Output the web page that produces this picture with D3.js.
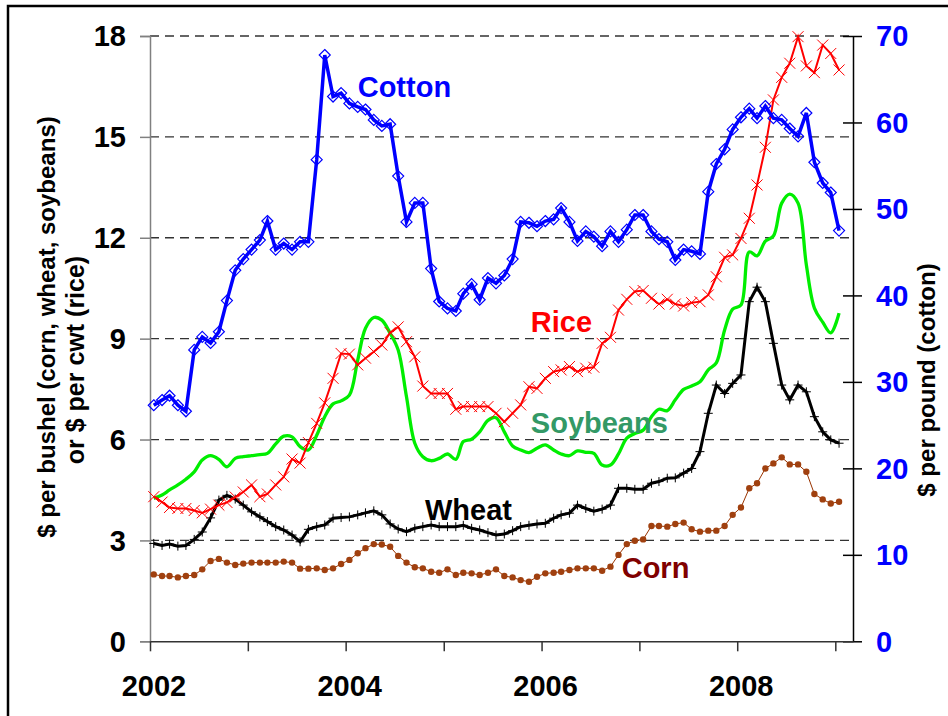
<!DOCTYPE html>
<html lang="en">
<head>
<meta charset="UTF-8">
<title>Farm prices 2002-2009</title>
<script src="https://d3js.org/d3.v7.min.js"></script>
<style>
  body { margin: 0; background: #fff; }
  svg { display: block; font-family: "Liberation Sans", Arial, sans-serif; font-weight: bold; }
</style>
</head>
<body>
<svg id="chart" width="948" height="716"></svg>
<script>
// monthly prices received by farmers, Jan 2002 - Jan 2009
const firstMonth = new Date(2002, 0, 15);

// cents per pound (right axis)
const cotton = [27.3,27.9,28.4,27.3,26.6,33.7,35.2,34.5,35.8,39.4,42.9,44.2,
  45.3,46.4,48.6,45.3,46.0,45.3,46.2,46.2,55.7,67.8,63.0,63.4,
  62.2,61.8,61.5,60.3,59.6,59.8,53.8,48.5,50.7,50.7,43.1,39.3,
  38.5,38.2,40.2,41.3,39.5,42.0,41.4,42.3,44.2,48.5,48.4,48.0,
  48.6,48.8,50.1,48.5,46.3,47.4,46.8,45.7,47.4,46.2,47.6,49.3,
  49.3,47.4,46.5,46.2,44.1,45.3,45.1,44.8,52.0,55.2,56.9,59.2,
  60.6,61.6,60.5,61.9,60.5,60.3,59.3,58.4,61.1,55.4,53.0,51.9,
  47.5];

// $ per cwt
const rice = [4.30,4.14,3.98,3.95,3.95,3.89,3.82,3.93,4.05,4.13,4.29,4.44,
  4.65,4.30,4.38,4.65,4.89,5.42,5.30,5.91,6.48,7.09,7.82,8.56,
  8.54,8.22,8.42,8.61,8.81,9.18,9.35,8.91,8.46,7.59,7.37,7.37,
  7.37,6.90,6.98,6.98,6.98,6.98,6.78,6.53,6.78,7.03,7.57,7.52,
  7.82,8.02,8.07,8.17,8.02,8.12,8.15,8.86,9.04,9.85,10.17,10.40,
  10.43,10.20,10.03,10.17,10.03,9.97,10.07,10.10,10.30,10.84,11.42,11.49,
  11.98,12.58,13.57,14.69,16.10,16.77,17.19,17.98,17.11,16.91,17.73,17.48,
  16.99];

// $ per bushel
const soybeans = [4.25,4.35,4.50,4.65,4.82,5.04,5.39,5.52,5.41,5.19,5.44,5.49,
  5.52,5.55,5.59,5.87,6.10,6.08,5.79,5.69,6.13,6.68,7.06,7.15,
  7.32,8.36,9.31,9.63,9.55,9.16,8.66,7.27,5.89,5.49,5.37,5.44,
  5.57,5.41,5.94,6.01,6.23,6.57,6.65,6.23,5.81,5.69,5.61,5.74,
  5.84,5.69,5.57,5.52,5.66,5.62,5.59,5.24,5.24,5.57,6.04,6.18,
  6.28,6.68,6.90,6.86,7.18,7.49,7.59,7.72,8.07,8.28,9.26,9.88,
  10.00,11.58,11.46,11.90,12.05,13.03,13.30,13.03,11.19,9.91,9.49,9.17,
  9.76];

const wheat = [2.91,2.85,2.89,2.83,2.85,3.03,3.25,3.67,4.20,4.34,4.23,4.05,
  3.85,3.70,3.56,3.41,3.31,3.16,2.96,3.33,3.41,3.46,3.66,3.68,
  3.70,3.76,3.82,3.88,3.76,3.49,3.34,3.26,3.36,3.41,3.46,3.41,
  3.41,3.41,3.45,3.36,3.31,3.23,3.16,3.19,3.29,3.41,3.45,3.49,
  3.51,3.66,3.76,3.81,4.05,3.95,3.87,3.93,4.05,4.55,4.55,4.52,
  4.52,4.70,4.75,4.85,4.86,5.00,5.14,5.64,6.78,7.62,7.37,7.67,
  7.92,10.10,10.53,10.10,8.86,7.62,7.18,7.62,7.42,6.68,6.23,5.99,
  5.89];

const corn = [1.99,1.94,1.94,1.90,1.94,1.97,2.14,2.39,2.45,2.34,2.27,2.31,
  2.34,2.34,2.34,2.34,2.37,2.34,2.16,2.16,2.17,2.12,2.17,2.30,
  2.42,2.62,2.77,2.89,2.88,2.81,2.54,2.34,2.20,2.17,2.07,2.04,
  2.14,1.97,2.04,2.02,1.97,2.04,2.14,1.94,1.90,1.82,1.77,1.92,
  2.02,2.04,2.07,2.12,2.17,2.17,2.17,2.10,2.22,2.57,2.89,2.99,
  3.03,3.43,3.43,3.41,3.49,3.53,3.33,3.26,3.29,3.29,3.43,3.76,
  3.98,4.55,4.70,5.14,5.29,5.47,5.26,5.26,5.04,4.38,4.22,4.10,
  4.15];

const years = [2002, 2003, 2004, 2005, 2006, 2007, 2008, 2009];
const yearLabels = ["2002", "2004", "2006", "2008"];
const leftTicks = [0, 3, 6, 9, 12, 15, 18];
const rightTicks = [0, 10, 20, 30, 40, 50, 60, 70];

const months = cotton.map((d, i) => d3.timeMonth.offset(firstMonth, i));

const svg = d3.select("#chart");

const x = d3.scaleTime()
    .domain([new Date(2002, 0, 1), new Date(2009, 2, 8)])
    .range([150, 853]);
const yL = d3.scaleLinear().domain([0, 18]).range([641.3, 36]);
const yR = d3.scaleLinear().domain([0, 70]).range([641.3, 36]);

// outer frame
svg.append("rect")
    .attr("x", 8).attr("y", 6)
    .attr("width", 960).attr("height", 760)
    .attr("fill", "none").attr("stroke", "#000").attr("stroke-width", 2.5);

// dashed grid
svg.append("g").selectAll("line")
    .data(leftTicks.filter(d => d > 0))
    .join("line")
    .attr("x1", 150).attr("x2", 853)
    .attr("y1", d => yL(d)).attr("y2", d => yL(d))
    .attr("stroke", "#333").attr("stroke-width", 1.3)
    .attr("stroke-dasharray", "9,6");

// left axis
const gL = svg.append("g").attr("transform", "translate(150,0)")
    .call(d3.axisLeft(yL).tickValues(leftTicks).tickSize(10).tickFormat(""));
gL.select(".domain").attr("stroke", "#808080").attr("stroke-width", 1.5);
gL.selectAll(".tick line").attr("stroke", "#808080").attr("stroke-width", 1.5);

svg.append("g").selectAll("text")
    .data(leftTicks)
    .join("text")
    .attr("x", 126).attr("y", d => yL(d)).attr("dy", "0.355em")
    .attr("text-anchor", "end")
    .attr("font-size", 29)
    .text(d => d);

// right axis
const gR = svg.append("g").attr("transform", "translate(853,0)")
    .call(d3.axisRight(yR).tickValues(rightTicks).tickSizeInner(9).tickSizeOuter(0).tickFormat(""));
gR.select(".domain").attr("stroke", "#000").attr("stroke-width", 1.5);
gR.selectAll(".tick line").attr("x1", -10).attr("stroke", "#000").attr("stroke-width", 1.5);

svg.append("g").selectAll("text")
    .data(rightTicks)
    .join("text")
    .attr("x", 876).attr("y", d => yR(d)).attr("dy", "0.355em")
    .attr("fill", "#0000ff")
    .attr("font-size", 29)
    .text(d => d);

// x axis
const gX = svg.append("g").attr("transform", "translate(0,641.3)")
    .call(d3.axisBottom(x).tickValues(years.map(y => new Date(y, 0, 1)))
        .tickSize(10).tickSizeOuter(0).tickFormat(""));
gX.select(".domain").attr("stroke", "#333").attr("stroke-width", 1.5);
gX.selectAll(".tick line").attr("stroke", "#333").attr("stroke-width", 1.5);

svg.append("g").selectAll("text")
    .data(yearLabels)
    .join("text")
    .attr("x", d => x(new Date(+d, 0, 1)) + 4).attr("y", 696)
    .attr("text-anchor", "middle")
    .attr("font-size", 29)
    .text(d => d);

// axis titles
svg.append("text")
    .attr("transform", "translate(55,327) rotate(-90)")
    .attr("text-anchor", "middle").attr("font-size", 24)
    .text("$ per bushel (corn, wheat, soybeans)");
svg.append("text")
    .attr("transform", "translate(84,360) rotate(-90)")
    .attr("text-anchor", "middle").attr("font-size", 25)
    .text("or $ per cwt (rice)");
svg.append("text")
    .attr("transform", "translate(935,380) rotate(-90)")
    .attr("text-anchor", "middle").attr("font-size", 24)
    .text("$ per pound (cotton)");

const lineL = d3.line().x((d, i) => x(months[i])).y(d => yL(d));
const lineR = d3.line().x((d, i) => x(months[i])).y(d => yR(d));

// soybeans: smoothed, no markers
svg.append("path")
    .datum(soybeans)
    .attr("d", lineL.curve(d3.curveCatmullRom))
    .attr("fill", "none").attr("stroke", "#00ee00").attr("stroke-width", 3.3);
lineL.curve(d3.curveLinear);

// wheat
svg.append("path")
    .datum(wheat)
    .attr("d", lineL)
    .attr("fill", "none").attr("stroke", "#000").attr("stroke-width", 3);
svg.append("g").selectAll("path")
    .data(wheat)
    .join("path")
    .attr("transform", (d, i) => `translate(${x(months[i])},${yL(d)})`)
    .attr("d", "M-4.5,0H4.5M0,-4.5V4.5")
    .attr("stroke", "#000").attr("stroke-width", 1);

// corn
svg.append("path")
    .datum(corn)
    .attr("d", lineL)
    .attr("fill", "none").attr("stroke", "#993300").attr("stroke-width", 1);
svg.append("g").selectAll("circle")
    .data(corn)
    .join("circle")
    .attr("cx", (d, i) => x(months[i])).attr("cy", d => yL(d))
    .attr("r", 3.2).attr("fill", "#a0400f");

// rice
svg.append("path")
    .datum(rice)
    .attr("d", lineL)
    .attr("fill", "none").attr("stroke", "#ff0000").attr("stroke-width", 2);
svg.append("g").selectAll("path")
    .data(rice)
    .join("path")
    .attr("transform", (d, i) => `translate(${x(months[i])},${yL(d)})`)
    .attr("d", "M-5.5,-5.5L5.5,5.5M-5.5,5.5L5.5,-5.5")
    .attr("stroke", "#ff0000").attr("stroke-width", 1);

// cotton
svg.append("path")
    .datum(cotton)
    .attr("d", lineR)
    .attr("fill", "none").attr("stroke", "#0000ff").attr("stroke-width", 3.5);
svg.append("g").selectAll("path")
    .data(cotton)
    .join("path")
    .attr("transform", (d, i) => `translate(${x(months[i])},${yR(d)})`)
    .attr("d", "M0,-5.5L5.5,0L0,5.5L-5.5,0Z")
    .attr("fill", "none").attr("stroke", "#0000ff").attr("stroke-width", 1.2);

// series labels
const seriesLabels = [
  { text: "Cotton", color: "#0000ff", date: new Date(2004, 1, 15), value: 16.18 },
  { text: "Rice", color: "#ff0000", date: new Date(2005, 10, 22), value: 9.21 },
  { text: "Soybeans", color: "#339966", date: new Date(2005, 10, 22), value: 6.19 },
  { text: "Wheat", color: "#000000", date: new Date(2004, 9, 23), value: 3.61 },
  { text: "Corn", color: "#800000", date: new Date(2006, 9, 27), value: 1.88 }
];
svg.append("g").selectAll("text")
    .data(seriesLabels)
    .join("text")
    .attr("x", d => x(d.date)).attr("y", d => yL(d.value))
    .attr("fill", d => d.color)
    .attr("font-size", 29)
    .text(d => d.text);
</script>
</body>
</html>
